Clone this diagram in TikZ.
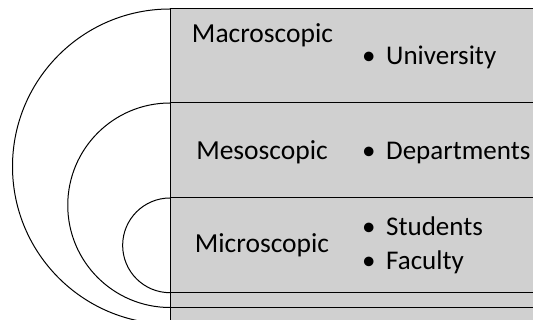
\documentclass[tikz,border=0pt]{standalone}
\usepackage{fontspec}
\setmainfont{Carlito}
\definecolor{levelgray}{RGB}{208,208,208}
\begin{document}
\begin{tikzpicture}[x=1pt,y=-1pt,
  rule/.style={draw=black,line width=1pt},
  level/.style={font=\fontsize{27.5}{32}\selectfont,inner sep=0pt,anchor=base},
  item/.style={font=\fontsize{27}{32}\selectfont,inner sep=0pt,anchor=base west}]
\useasboundingbox (0,0) rectangle (533,320);
\clip (0,0) rectangle (533,320);

% shaded band of levels
\fill[levelgray] (170,9) rectangle (545,330);

% row separators
\coordinate (t0) at (170,9);
\coordinate (t1) at (170,103);
\coordinate (t2) at (170,198);
\coordinate (t3) at (170,292.7);
\coordinate (t4) at (170,307.5);
\foreach \c in {t0,t1,t2,t3,t4}
  \draw[rule] (\c) -- ++(380,0);
\draw[rule] (t0) -- (170,330);

% nested half circles
\draw[rule] (t0) arc[start angle=270,end angle=90,radius=157.5];
\draw[rule] (t1) arc[start angle=270,end angle=90,radius=102.25];
\draw[rule] (t2) arc[start angle=270,end angle=90,radius=47.35];

% level names
\node[level] (macro) at (262.5,42.3) {Macroscopic};
\node[level] (meso)  at (262,159.5) {Mesoscopic};
\node[level] (micro) at (262,253) {Microscopic};

% members of each level
\node[item] (univ) at (362,65)    {\makebox[24pt][l]{•}University};
\node[item] (dept) at (362,159.5) {\makebox[24pt][l]{•}Departments};
\node[item] (stud) at (362,236)   {\makebox[24pt][l]{•}Students};
\node[item] (fac)  at (362,270)   {\makebox[24pt][l]{•}Faculty};
\end{tikzpicture}
\end{document}
